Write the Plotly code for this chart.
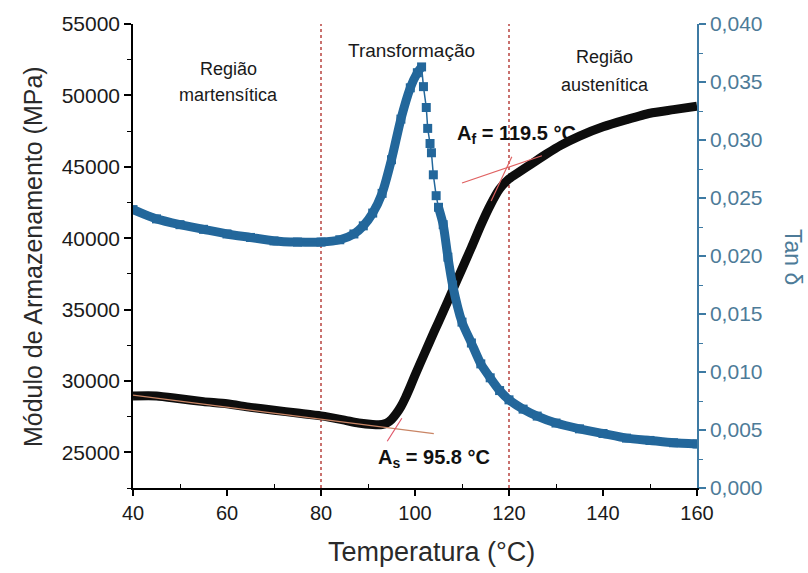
import numpy as np
import plotly.graph_objects as go

# Storage modulus E' (MPa) versus temperature (°C)
temp_mod = [40, 45, 50, 55, 60, 65, 70, 75, 80, 85, 88, 91, 93, 94, 95, 96, 97, 98, 99, 100,
            102, 104, 106, 108, 110, 112, 114, 116, 118, 120, 122, 125, 128, 131, 135, 140,
            145, 150, 155, 160]
modulus = [28950, 28950, 28750, 28550, 28400, 28150, 27950, 27750, 27550, 27250, 27050, 26950,
           26950, 27050, 27300, 27700, 28200, 28850, 29600, 30400, 31900, 33400, 34850, 36350,
           37850, 39350, 40900, 42300, 43450, 44150, 44600, 45250, 45900, 46500, 47150, 47800,
           48300, 48750, 49000, 49250]

# Loss factor tan delta versus temperature (°C)
temp_tan = [40, 45, 50, 55, 60, 65, 70, 75, 80, 84, 87, 89, 91, 93, 95, 97, 99, 100.5, 101.4,
            101.8, 102.4, 102.7, 103.2, 103.5, 103.9, 104.5, 105, 106, 107, 108, 110, 112, 114,
            116, 118, 120, 123, 126, 130, 135, 140, 145, 150, 155, 160]
tan_delta = [0.0240, 0.0232, 0.0227, 0.0223, 0.0219, 0.0216, 0.0213, 0.0212, 0.0212, 0.0214,
             0.0219, 0.0226, 0.0237, 0.0254, 0.0283, 0.0318, 0.0345, 0.0358, 0.0363, 0.0346,
             0.0328, 0.0310, 0.0297, 0.0289, 0.0270, 0.0252, 0.0242, 0.0227, 0.0199, 0.0175,
             0.0143, 0.0125, 0.0107, 0.0095, 0.0084, 0.0076, 0.0068, 0.0062, 0.0056, 0.0051,
             0.0047, 0.0043, 0.0041, 0.0039, 0.0038]

# Transformation temperatures and phase-region boundaries
as_temp = 95.8
af_temp = 119.5
region_bounds = [80, 120]

# Tangent constructions used to find the transformation temperatures
as_base_x = [40, 104]
as_base_y = [29000, 26312]
as_rise_x = [94.1, 97.2]
as_rise_y = [25772, 27384]
af_top_x = [110, 127]
af_top_y = [43866, 45770]
af_rise_x = [116.2, 120.6]
af_rise_y = [42597, 45708]

# Axis ticks
x_ticks = [40, 60, 80, 100, 120, 140, 160]
x_ticktext = ["40", "60", "80", "100", "120", "140", "160"]
mod_ticks = [25000, 30000, 35000, 40000, 45000, 50000, 55000]
mod_ticktext = ["25000", "30000", "35000", "40000", "45000", "50000", "55000"]
tan_ticks = [0.000, 0.005, 0.010, 0.015, 0.020, 0.025, 0.030, 0.035, 0.040]
tan_ticktext = ["0,000", "0,005", "0,010", "0,015", "0,020", "0,025", "0,030", "0,035", "0,040"]

FONT = "Liberation Sans, Arial, sans-serif"
BLUE = "#23679b"
BLUE_AXIS = "#3d7aa3"
BLUE_TEXT = "#4d7b98"
BLACK = "#0d0d0d"
DOT_RED = "#b8433f"
TEXT = "#1a1a1a"

fig = go.Figure()

# tan delta: thick band where the data are dense, sparse squares near the sharp drop
tt = np.array(temp_tan, dtype=float)
td = np.array(tan_delta, dtype=float)
sparse = (tt > 101.4) & (tt < 105)
td_band = np.where(sparse, np.nan, td)
fig.add_trace(go.Scatter(x=tt, y=td_band, yaxis="y2", mode="lines",
                         line=dict(color=BLUE, width=9, shape="spline", smoothing=0.6),
                         connectgaps=False, showlegend=False, hoverinfo="skip"))
fig.add_trace(go.Scatter(x=tt, y=td, yaxis="y2", mode="lines+markers",
                         line=dict(color=BLUE, width=1.5),
                         marker=dict(symbol="square", size=9, color=BLUE),
                         showlegend=False, name="Tan δ"))

# storage modulus
fig.add_trace(go.Scatter(x=temp_mod, y=modulus, mode="lines",
                         line=dict(color=BLACK, width=9, shape="spline", smoothing=0.6),
                         showlegend=False, name="E'"))

# tangent lines
fig.add_trace(go.Scatter(x=as_base_x, y=as_base_y, mode="lines",
                         line=dict(color="#c98565", width=1.2), showlegend=False, hoverinfo="skip"))
fig.add_trace(go.Scatter(x=as_rise_x, y=as_rise_y, mode="lines",
                         line=dict(color="#e0586a", width=1.2), showlegend=False, hoverinfo="skip"))
fig.add_trace(go.Scatter(x=af_top_x, y=af_top_y, mode="lines",
                         line=dict(color="#e06262", width=1.2), showlegend=False, hoverinfo="skip"))
fig.add_trace(go.Scatter(x=af_rise_x, y=af_rise_y, mode="lines",
                         line=dict(color="#e06262", width=1.2), showlegend=False, hoverinfo="skip"))

# dotted boundaries between the phase regions
for xb in region_bounds:
    fig.add_shape(type="line", xref="x", yref="paper", x0=xb, x1=xb, y0=0, y1=1,
                  line=dict(color=DOT_RED, width=1.5, dash="dot"), layer="below")

# minor tick positions
x_minor = list(np.arange(50, 160, 20))
mod_minor = list(np.arange(22500, 55001, 5000))
tan_minor = list(np.arange(0.0025, 0.040, 0.005))

fig.update_layout(
    width=808, height=573,
    margin=dict(l=133, r=111, t=20, b=85),
    plot_bgcolor="white", paper_bgcolor="white",
    font=dict(family=FONT, color=TEXT),
    xaxis=dict(range=[40, 160], tickvals=x_ticks, ticktext=x_ticktext,
               showgrid=False, zeroline=False, showline=True, linecolor="black", linewidth=1.5,
               ticks="outside", ticklen=6, tickwidth=1.5, tickcolor="black",
               tickfont=dict(size=20, family=FONT, color=TEXT),
               minor=dict(tickvals=x_minor, ticks="inside", ticklen=4, tickwidth=1.2,
                          tickcolor="black", showgrid=False)),
    xaxis2=dict(range=[40, 160], overlaying="x", side="top", anchor="y",
                showgrid=False, zeroline=False, showline=True, linecolor="black", linewidth=1.5,
                tickvals=x_ticks, showticklabels=False, ticks="inside", ticklen=5,
                tickwidth=1.2, tickcolor="black",
                minor=dict(tickvals=x_minor, ticks="inside", ticklen=4, tickwidth=1.2,
                           tickcolor="black")),
    yaxis=dict(range=[22500, 55000], tickvals=mod_ticks, ticktext=mod_ticktext,
               showgrid=False, zeroline=False, showline=True, linecolor="black", linewidth=1.5,
               ticks="outside", ticklen=7, tickwidth=1.5, tickcolor="black",
               tickfont=dict(size=21, family=FONT, color=TEXT),
               minor=dict(tickvals=mod_minor, ticks="outside", ticklen=4, tickwidth=1.2,
                          tickcolor="black", showgrid=False)),
    yaxis2=dict(range=[0, 0.040], overlaying="y", side="right", anchor="x",
                tickvals=tan_ticks, ticktext=tan_ticktext,
                showgrid=False, zeroline=False, showline=True, linecolor=BLUE_AXIS, linewidth=1.5,
                ticks="outside", ticklen=7, tickwidth=1.5, tickcolor=BLUE_AXIS,
                tickfont=dict(size=21, family=FONT, color=BLUE_TEXT),
                minor=dict(tickvals=tan_minor, ticks="outside", ticklen=4, tickwidth=1.2,
                           tickcolor=BLUE_AXIS, showgrid=False)),
)


def label(text, x, y, size, color=TEXT, xref="x", yref="paper", angle=0):
    return dict(text=text, xref=xref, yref=yref, x=x, y=y, textangle=angle,
                xanchor="center", yanchor="middle", showarrow=False,
                font=dict(size=size, family=FONT, color=color))


annotations = [
    # axis titles
    label("Módulo de Armazenamento (MPa)", -0.177, 0.498, 25, "#2a2a2a", "paper", "paper", -90),
    label("Tan δ", 1.170, 0.498, 23, BLUE_TEXT, "paper", "paper", 90),
    label("Temperatura (°C)", 0.53, -0.139, 27, "#2a2a2a", "paper", "paper"),
    # region labels
    label("Região", 60.3, 0.904, 18),
    label("martensítica", 60.3, 0.846, 18),
    label("Transformação", 99.2, 0.942, 19),
    label("Região", 140.4, 0.929, 18),
    label("austenítica", 140.4, 0.868, 18),
    # transformation temperatures
    label(f"<b>A<sub>f</sub> = {af_temp} °C</b>", 121.5, 47290, 20, "#111111", "x", "y"),
    label(f"<b>A<sub>s</sub> = {as_temp} °C</b>", 104.0, 24583, 20, "#111111", "x", "y"),
]
fig.update_layout(annotations=annotations)

fig.write_html("out.html")
